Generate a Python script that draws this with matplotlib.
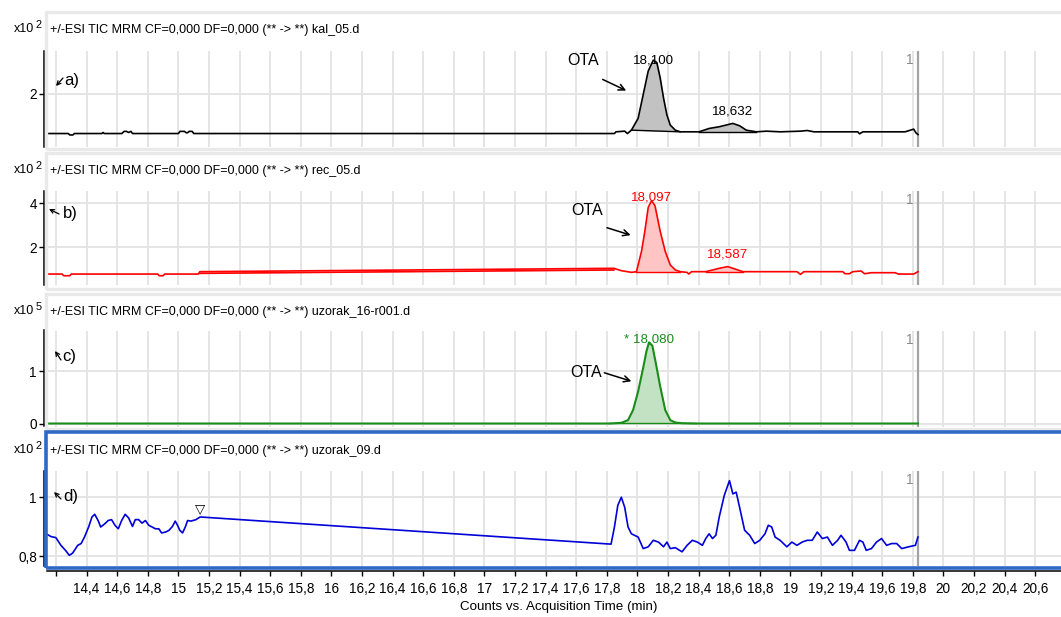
import numpy as np
import matplotlib
matplotlib.use("Agg")
import matplotlib.pyplot as plt
from matplotlib.patches import Rectangle
from matplotlib.ticker import FixedLocator, FixedFormatter

FONT = ['Liberation Sans Narrow', 'Liberation Sans', 'DejaVu Sans']
plt.rcParams['font.family'] = FONT

# ---------------- data (counts vs. acquisition time, min) ----------------
a_time = [14.143, 14.28, 14.29, 14.31, 14.32, 14.50, 14.508, 14.515, 14.63, 14.645, 14.66,
          14.675, 14.69, 14.70, 15.00, 15.01, 15.04, 15.05, 15.06, 15.07, 15.09, 15.10,
          17.85, 17.86, 17.917, 17.935, 17.961, 18.005, 18.038, 18.071, 18.104, 18.127,
          18.149, 18.171, 18.193, 18.215, 18.248, 18.281, 18.403, 18.469, 18.535, 18.624,
          18.668, 18.712, 18.778, 18.845, 18.933, 19.066, 19.110, 19.154, 19.441, 19.452,
          19.474, 19.750, 19.806, 19.821, 19.834]
a_value = [1.281, 1.281, 1.255, 1.255, 1.281, 1.281, 1.300, 1.281, 1.281, 1.320, 1.320,
           1.300, 1.320, 1.281, 1.281, 1.320, 1.320, 1.295, 1.295, 1.320, 1.320, 1.281,
           1.281, 1.312, 1.324, 1.281, 1.342, 1.557, 1.988, 2.418, 2.615, 2.572,
           2.295, 1.926, 1.619, 1.435, 1.342, 1.312, 1.312, 1.373, 1.404, 1.465,
           1.422, 1.342, 1.312, 1.324, 1.312, 1.324, 1.336, 1.312, 1.312, 1.275,
           1.312, 1.312, 1.361, 1.293, 1.262]
a_peaks = [(17.961, 18.281), (18.403, 18.778)]

b_time = [14.143, 14.24, 14.25, 14.29, 14.30, 14.865, 14.875, 14.90, 14.91, 15.13, 15.14,
          17.846, 17.895, 17.961, 17.994, 18.027, 18.049, 18.071, 18.093, 18.115, 18.149,
          18.182, 18.215, 18.248, 18.281, 18.325, 18.336, 18.354, 18.447, 18.491, 18.535,
          18.590, 18.624, 18.690, 19.043, 19.066, 19.088, 19.342, 19.357, 19.386, 19.408,
          19.463, 19.485, 19.530, 19.684, 19.706, 19.806, 19.834]
b_value = [0.794, 0.794, 0.718, 0.718, 0.794, 0.794, 0.718, 0.718, 0.794, 0.794, 0.901,
           1.053, 0.947, 0.870, 0.901, 1.817, 2.733, 3.802, 4.107, 3.878, 2.733,
           1.817, 1.206, 0.977, 0.901, 0.870, 0.794, 0.901, 0.901, 0.977, 1.053,
           1.130, 1.053, 0.901, 0.901, 0.779, 0.901, 0.901, 0.809, 0.809, 0.901,
           0.931, 0.809, 0.855, 0.855, 0.794, 0.794, 0.901]
b_gap_time = [15.14, 17.846]
b_gap_base = [0.825, 0.977]
b_peaks = [(17.994, 18.281), (18.447, 18.690)]

c_time = [14.143, 17.817, 17.895, 17.939, 17.972, 18.005, 18.038, 18.060, 18.076, 18.098,
          18.120, 18.149, 18.182, 18.215, 18.248, 18.292, 18.381, 19.834]
c_value = [0.0, 0.0, 0.013, 0.065, 0.258, 0.613, 1.065, 1.387, 1.548, 1.484,
           1.161, 0.710, 0.258, 0.065, 0.019, 0.006, 0.0, 0.0]
c_peaks = [(17.817, 18.381)]
c_base_level = 0.013

d_time = [14.143, 14.165, 14.199, 14.232, 14.265, 14.287, 14.309, 14.342, 14.364, 14.386,
          14.413, 14.435, 14.453, 14.475, 14.492, 14.519, 14.541, 14.563, 14.585, 14.607,
          14.629, 14.652, 14.674, 14.700, 14.718, 14.740, 14.762, 14.784, 14.806, 14.828,
          14.850, 14.872, 14.890, 14.917, 14.939, 14.961, 14.979, 14.994, 15.009, 15.027,
          15.045, 15.060, 15.082, 15.115, 15.142,
          17.828, 17.850, 17.872, 17.895, 17.917, 17.939, 17.961, 18.005, 18.038, 18.071,
          18.104, 18.138, 18.171, 18.193, 18.215, 18.248, 18.292, 18.325, 18.359, 18.392,
          18.425, 18.447, 18.469, 18.491, 18.513, 18.535, 18.568, 18.602, 18.624, 18.646,
          18.668, 18.701, 18.734, 18.767, 18.800, 18.834, 18.856, 18.878, 18.900, 18.933,
          18.977, 19.010, 19.043, 19.077, 19.110, 19.143, 19.176, 19.209, 19.242, 19.275,
          19.309, 19.331, 19.364, 19.386, 19.419, 19.452, 19.474, 19.496, 19.530, 19.563,
          19.596, 19.629, 19.662, 19.695, 19.728, 19.773, 19.817, 19.834]
d_value = [0.874, 0.867, 0.863, 0.837, 0.818, 0.803, 0.811, 0.837, 0.843, 0.865,
           0.899, 0.933, 0.942, 0.921, 0.899, 0.910, 0.921, 0.924, 0.905, 0.893,
           0.921, 0.942, 0.930, 0.901, 0.924, 0.924, 0.912, 0.921, 0.905, 0.899,
           0.893, 0.893, 0.879, 0.882, 0.888, 0.901, 0.919, 0.905, 0.888, 0.879,
           0.899, 0.921, 0.919, 0.924, 0.933,
           0.841, 0.899, 0.972, 1.000, 0.966, 0.899, 0.876, 0.865, 0.826, 0.832,
           0.854, 0.848, 0.832, 0.848, 0.826, 0.829, 0.815, 0.837, 0.854, 0.848,
           0.837, 0.860, 0.876, 0.860, 0.871, 0.933, 1.006, 1.056, 1.011, 1.017,
           0.966, 0.888, 0.871, 0.843, 0.854, 0.876, 0.905, 0.899, 0.865, 0.854,
           0.832, 0.848, 0.837, 0.848, 0.854, 0.854, 0.882, 0.860, 0.865, 0.837,
           0.854, 0.871, 0.848, 0.820, 0.820, 0.854, 0.848, 0.820, 0.826, 0.848,
           0.860, 0.837, 0.843, 0.843, 0.826, 0.832, 0.837, 0.865]

titles = ["+/-ESI TIC MRM CF=0,000 DF=0,000 (** -> **) kal_05.d",
          "+/-ESI TIC MRM CF=0,000 DF=0,000 (** -> **) rec_05.d",
          "+/-ESI TIC MRM CF=0,000 DF=0,000 (** -> **) uzorak_16-r001.d",
          "+/-ESI TIC MRM CF=0,000 DF=0,000 (** -> **) uzorak_09.d"]
exponents = ["2", "2", "5", "2"]
panel_labels = ["a)", "b)", "c)", "d)"]
y_ticks = [[2], [2, 4], [0, 1], [0.8, 1]]
y_ticklabels = [["2"], ["2", "4"], ["0", "1"], ["0,8", "1"]]
x_ticks = [14.2, 14.4, 14.6, 14.8, 15.0, 15.2, 15.4, 15.6, 15.8, 16.0, 16.2, 16.4, 16.6,
           16.8, 17.0, 17.2, 17.4, 17.6, 17.8, 18.0, 18.2, 18.4, 18.6, 18.8, 19.0, 19.2,
           19.4, 19.6, 19.8, 20.0, 20.2, 20.4, 20.6]
x_ticklabels = ["", "14,4", "14,6", "14,8", "15", "15,2", "15,4", "15,6", "15,8", "16",
                "16,2", "16,4", "16,6", "16,8", "17", "17,2", "17,4", "17,6", "17,8", "18",
                "18,2", "18,4", "18,6", "18,8", "19", "19,2", "19,4", "19,6", "19,8", "20",
                "20,2", "20,4", "20,6"]
peak_names = ["18,100", "18,097", "* 18,080"]
second_names = ["18,632", "18,587"]
x_label = "Counts vs. Acquisition Time (min)"

# ---------------- layout ----------------
W, H = 1061, 617
fig = plt.figure(figsize=(W / 100, H / 100), dpi=100)
fig.patch.set_facecolor("white")


def fbox(l, t, r, b):
    return [l / W, 1 - b / H, (r - l) / W, (b - t) / H]


def fpt(x, y):
    return (x / W, 1 - y / H)


XLIM = (14.141, 20.769)
axes_px = [(47, 50.7, 1061, 147), (47, 190.6, 1061, 285), (47, 330.5, 1061, 426.5),
           (47, 470.6, 1061, 566)]
ylims = [(1.036, 2.787), (0.30, 4.56), (-0.057, 1.775), (0.767, 1.09)]
title_y = [30, 171, 312, 451]
boxes = [(46, 12, 1075, 149), (46, 153, 1075, 289), (46, 294, 1075, 429)]
colors = ["#000000", "#ff0000", "#1a8c1a", "#0000d8"]
fills = ["#c2c2c2", "#ffc4c4", "#c3e2c3"]
letter_arrows = [((63, 78), (56, 86)), ((59, 214), (49, 209)), ((61, 360), (55, 351)),
                 ((61, 499), (54, 492))]
letter_pos = [(72, 80), (70, 214), (69, 356), (71, 497)]

TITLE_FS = 9.0
TICK_FS = 9.8

for bx in boxes:
    l, t, r, b = bx
    fig.patches.append(Rectangle(fpt(l, b), (r - l) / W, (b - t) / H, transform=fig.transFigure,
                                 fill=False, edgecolor="#e9e9e9", lw=2.4, zorder=0))
# blue selection frame of panel d
fig.patches.append(Rectangle(fpt(46, 568), (1075 - 46) / W, (568 - 432) / H,
                             transform=fig.transFigure, fill=False, edgecolor="#3068c4",
                             lw=2.6, zorder=5))

axes = []
for i, box in enumerate(axes_px):
    ax = fig.add_axes(fbox(*box))
    ax.set_xlim(*XLIM)
    ax.set_ylim(*ylims[i])
    ax.set_facecolor("none")
    for s in ["top", "right", "bottom"]:
        ax.spines[s].set_visible(False)
    ax.spines["left"].set_position(("outward", 2.2))
    ax.spines["left"].set_linewidth(1.1)
    ax.xaxis.set_major_locator(FixedLocator(x_ticks))
    ax.yaxis.set_major_locator(FixedLocator(y_ticks[i]))
    ax.yaxis.set_major_formatter(FixedFormatter(y_ticklabels[i]))
    ax.tick_params(axis="y", length=3.5, width=1.0, pad=1.5, labelsize=TICK_FS)
    ax.grid(True, color="#e3e3e3", lw=1.3, zorder=0)
    ax.set_axisbelow(True)
    if i < 3:
        ax.tick_params(axis="x", length=0, labelbottom=False)
    else:
        ax.spines["bottom"].set_visible(True)
        ax.spines["bottom"].set_position(("outward", 3.5))
        ax.spines["bottom"].set_linewidth(1.1)
        ax.xaxis.set_major_formatter(FixedFormatter(x_ticklabels))
        ax.tick_params(axis="x", length=3.8, width=1.0, pad=4, labelsize=TICK_FS)
    axes.append(ax)
    # titles / exponents
    fig.text(*fpt(50, title_y[i]), titles[i], fontsize=TITLE_FS, va="center", ha="left")
    fig.text(*fpt(34, title_y[i] - 1), "x10", fontsize=TITLE_FS, va="center", ha="right")
    fig.text(*fpt(36, title_y[i] - 5), exponents[i], fontsize=7.8, va="center", ha="left")
    # panel letters with little arrows
    fig.text(*fpt(*letter_pos[i]), panel_labels[i], fontsize=12, va="center", ha="center")
    (tx, ty), (hx, hy) = letter_arrows[i]
    ax.annotate("", xy=fpt(hx, hy), xytext=fpt(tx, ty), xycoords="figure fraction",
                textcoords="figure fraction",
                arrowprops=dict(arrowstyle="->", lw=0.9, color="black",
                                shrinkA=0, shrinkB=0, mutation_scale=7))

series = [(a_time, a_value), (b_time, b_value), (c_time, c_value), (d_time, d_value)]
peak_ranges = [a_peaks, b_peaks, c_peaks]

for i, (t, v) in enumerate(series):
    ax = axes[i]
    t = np.asarray(t)
    v = np.asarray(v)
    lw = 1.5 if i == 2 else 1.2
    if i < 3:
        for (t0, t1) in peak_ranges[i]:
            m = (t >= t0) & (t <= t1)
            if i == 2:
                base = np.full(m.sum(), c_base_level)
            else:
                base = np.interp(t[m], [t0, t1], [v[t == t0][0], v[t == t1][0]])
            ax.fill_between(t[m], v[m], base, color=fills[i], lw=0, zorder=2)
            ax.plot(t[m], base, color=colors[i], lw=1.0, zorder=3)
    ax.plot(t, v, color=colors[i], lw=lw, zorder=4)
    # end-of-run marker
    ax.axvline(t[-1], color="#a3a3a3", lw=1.6, zorder=3)
    ax.annotate("1", xy=(t[-1], ylims[i][1]), xytext=(-3, -2), textcoords="offset points",
                ha="right", va="top", fontsize=TICK_FS, color="#8a8a8a")

# interpolated gap in the red trace
b_t = np.asarray(b_time)
b_v = np.asarray(b_value)
gm = (b_t >= b_gap_time[0]) & (b_t <= b_gap_time[1])
axes[1].fill_between(b_t[gm], b_v[gm], np.interp(b_t[gm], b_gap_time, b_gap_base),
                     color=fills[1], lw=0, zorder=2)
axes[1].plot(b_gap_time, b_gap_base, color=colors[1], lw=1.2, zorder=3)

# peak labels
main_offsets = [0, 2.5, 2.2]
for i in range(3):
    t = np.asarray(series[i][0])
    v = np.asarray(series[i][1])
    k = int(np.argmax(v))
    axes[i].annotate(peak_names[i], xy=(t[k], v[k]), xytext=(0, main_offsets[i]),
                     textcoords="offset points", ha="center", va="center", fontsize=9.6,
                     color=colors[i], zorder=6)
    if i < 2:
        m = t > 18.4
        k2 = np.flatnonzero(m)[int(np.argmax(v[m]))]
        axes[i].annotate(second_names[i], xy=(t[k2], v[k2]), xytext=(0, 8.8),
                         textcoords="offset points", ha="center", va="center",
                         fontsize=9.6, color=colors[i], zorder=6)

# OTA arrows (text, tail, head) in data units of each panel
ota = [((17.644, 2.60), (17.773, 2.265), (17.927, 2.062)),
       ((17.674, 3.648), (17.801, 2.885), (17.956, 2.551)),
       ((17.663, 0.981), (17.784, 0.968), (17.961, 0.807))]
for i, (tp, tail, head) in enumerate(ota):
    axes[i].text(*tp, "OTA", fontsize=11.5, ha="center", va="center", zorder=6)
    axes[i].annotate("", xy=head, xytext=tail,
                     arrowprops=dict(arrowstyle="->", lw=1.1, color="black", shrinkA=0,
                                     shrinkB=0, mutation_scale=11))

# gap marker in panel d
d_t = np.asarray(d_time)
d_v = np.asarray(d_value)
g = int(np.flatnonzero(np.diff(d_t) > 1)[0])
axes[3].annotate("\u25BD", xy=(d_t[g], d_v[g]), xytext=(0, 5.5), textcoords="offset points",
                 ha="center", va="center", fontsize=9.5, family=["DejaVu Sans"], zorder=6)

fig.text(*fpt(559, 607), x_label, fontsize=9.6, ha="center", va="center")

fig.savefig("out.png", dpi=100)
